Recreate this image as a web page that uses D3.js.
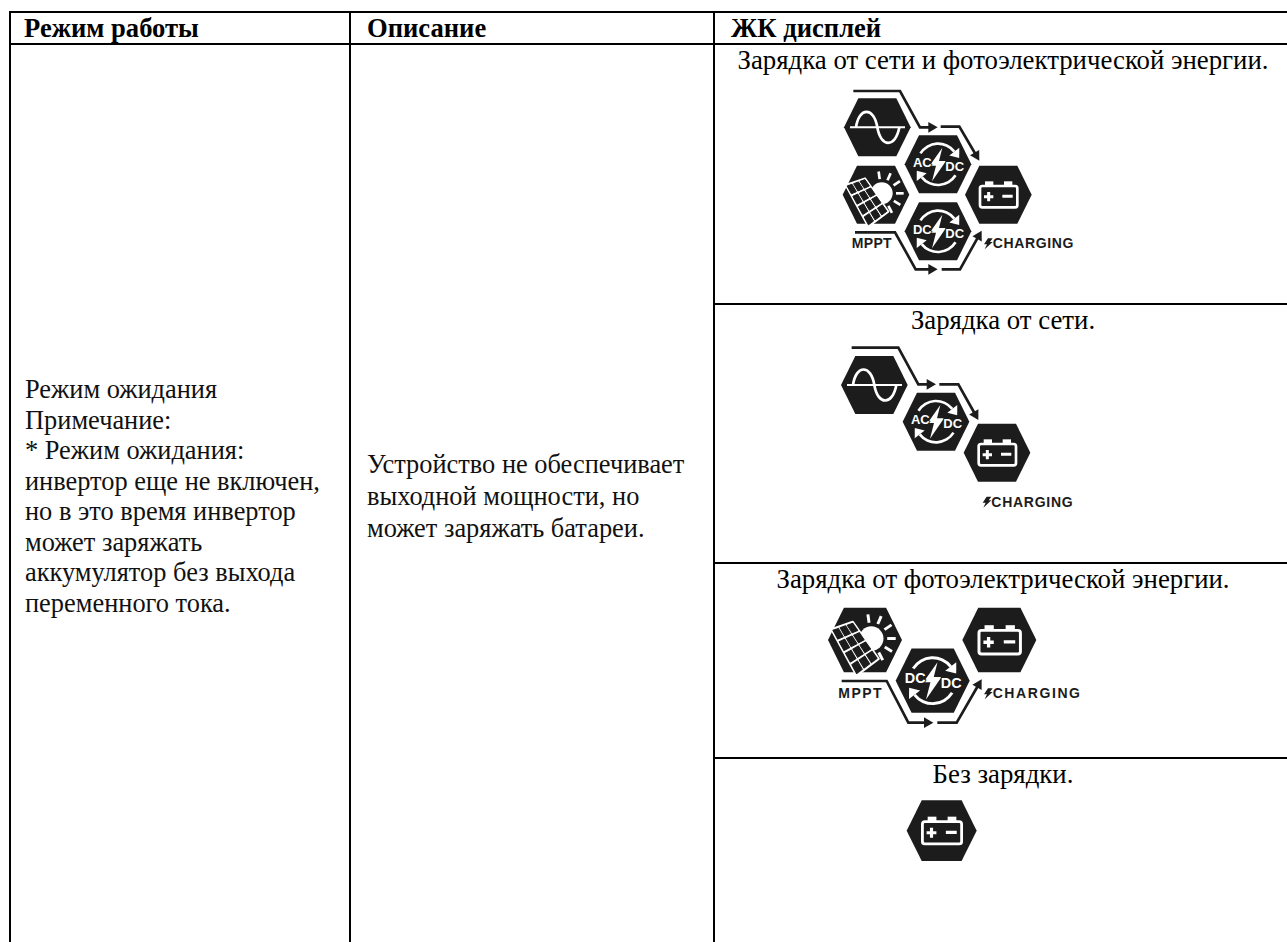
<!DOCTYPE html>
<html>
<head>
<meta charset="utf-8">
<script src="https://cdn.jsdelivr.net/npm/d3@7"></script>
<style>
  html, body { margin: 0; padding: 0; background: #fff; }
  svg { display: block; }
</style>
</head>
<body>
<div id="chart"></div>
<script>
// table content
const headers = ['Режим работы', 'Описание', 'ЖК дисплей'];
const modeLines = ['Режим ожидания', 'Примечание:', '* Режим ожидания:', 'инвертор еще не включен,', 'но в это время инвертор', 'может заряжать', 'аккумулятор без выхода', 'переменного тока.'];
const descLines = ['Устройство не обеспечивает', 'выходной мощности, но', 'может заряжать батареи.'];
const captions = ['Зарядка от сети и фотоэлектрической энергии.', 'Зарядка от сети.', 'Зарядка от фотоэлектрической энергии.', 'Без зарядки.'];

// layout of the table
const colX = [10, 350, 714];
const rowY = [12, 44, 304, 563, 758];
const headX = [24, 367, 731];

// icon layouts, hex centres and wires read in 1/3 px from the top left of each icon box
const icons = [
  {x: 780, y: 70, r: 100,
    hexes: [['sine', 292, 172], ['acdc', 474, 283], ['solar', 288, 374], ['dcdc', 474, 484], ['battery', 655, 374]],
    wires: [[[220, 63], [360, 63], [420, 172], [473, 172]],
            [[482, 170], [538, 170], [598, 272]],
            [[225, 487], [345, 487], [407, 598], [473, 598]],
            [[485, 598], [540, 598], [605, 482]]],
    mppt: [215, 335, 533], charging: [612, 880, 535]},
  {x: 780, y: 295, r: 100,
    hexes: [['sine', 283, 270], ['acdc', 468, 380], ['battery', 651, 473]],
    wires: [[[215, 158], [355, 158], [415, 268], [468, 268]],
            [[478, 268], [535, 268], [595, 375]]],
    mppt: null, charging: [608, 878, 635]},
  {x: 780, y: 590, r: 111,
    hexes: [['solar', 255, 150], ['dcdc', 458, 272], ['battery', 658, 150]],
    wires: [[[185, 273], [320, 273], [385, 398], [460, 398]],
            [[472, 398], [530, 398], [605, 268]]],
    mppt: [175, 305, 325], charging: [612, 900, 325]},
  {x: 780, y: 780, r: 105,
    hexes: [['battery', 485, 152]],
    wires: [], mppt: null, charging: null}
];

const width = 1287, height = 942;
const ink = '#1c1c1c';
const svg = d3.select('#chart').append('svg').attr('width', width).attr('height', height);

// grid
let grid = svg.append('g').attr('stroke', '#000').attr('stroke-width', 2);
grid.selectAll('.v').data(colX).enter().append('line')
  .attr('x1', d => d).attr('x2', d => d).attr('y1', rowY[0]).attr('y2', height);
grid.selectAll('.h').data(rowY.slice(0, 2)).enter().append('line')
  .attr('x1', colX[0] - 1).attr('x2', width).attr('y1', d => d).attr('y2', d => d);
grid.selectAll('.r').data(rowY.slice(2)).enter().append('line')
  .attr('x1', colX[2]).attr('x2', width).attr('y1', d => d).attr('y2', d => d);

// header
svg.selectAll('.head').data(headers).enter().append('text')
  .attr('x', (d, i) => headX[i]).attr('y', 37)
  .attr('font-family', 'Liberation Serif').attr('font-weight', 'bold').attr('font-size', 26.6)
  .text(d => d);

// left columns
svg.selectAll('.mode').data(modeLines).enter().append('text')
  .attr('x', 25).attr('y', (d, i) => 398 + i * 30.5)
  .attr('font-family', 'Liberation Serif').attr('font-size', 26.4).attr('fill', '#111')
  .text(d => d);
svg.selectAll('.desc').data(descLines).enter().append('text')
  .attr('x', 367).attr('y', (d, i) => 473 + i * 32)
  .attr('font-family', 'Liberation Serif').attr('font-size', 26.4).attr('fill', '#111')
  .text(d => d);

// captions
svg.selectAll('.cap').data(captions).enter().append('text')
  .attr('x', 1003).attr('y', (d, i) => rowY[i + 1] + 25)
  .attr('text-anchor', 'middle')
  .attr('font-family', 'Liberation Serif').attr('font-size', 26.8)
  .text(d => d);

const hexLine = d3.line().curve(d3.curveLinearClosed);
const hexPoints = [[-57, -87], [57, -87], [100, 0], [57, 87], [-57, 87], [-100, 0]];
const boltPoints = [[13, -50], [-25, 4], [-6, 4], [-18, 51], [24, -10], [3, -10]];

function drawBattery(g) {
  let w = g.append('g').attr('fill', 'none').attr('stroke', '#fff');
  w.append('rect').attr('x', -55).attr('y', -26).attr('width', 112).attr('height', 64).attr('rx', 7).attr('stroke-width', 8);
  g.selectAll('.term').data([-40, 17]).enter().append('rect')
    .attr('x', d => d).attr('y', -40).attr('width', 25).attr('height', 14).attr('fill', '#fff');
  w.append('path').attr('d', 'M-43,6H-15M-29,-8V20M12,5H43').attr('stroke-width', 9);
}

function drawSine(g) {
  let w = g.append('g').attr('fill', 'none').attr('stroke', '#fff');
  w.append('line').attr('x1', -82).attr('x2', 83).attr('stroke-width', 6);
  w.append('path').attr('d', 'M-64,0C-55,-62 -10,-62 0,0S55,62 66,0').attr('stroke-width', 8);
}

function drawConverter(g, left) {
  let arc = d3.arc().innerRadius(58).outerRadius(66);
  let deg = Math.PI / 180;
  let arcs = [[-58, 52], [122, 232]];
  g.selectAll('.arc').data(arcs).enter().append('path')
    .attr('fill', '#fff')
    .attr('d', d => arc({startAngle: d[0] * deg, endAngle: d[1] * deg}));
  // arrow heads on the clockwise ends
  g.selectAll('.head').data(arcs).enter().append('path')
    .attr('fill', '#fff')
    .attr('transform', d => `rotate(${d[1]}) translate(0,-62)`)
    .attr('d', 'M0,-19L24,0L0,19Z');
  g.append('path').attr('fill', '#fff').attr('d', hexLine(boltPoints));
  g.selectAll('.lab').data([[left, -47, 7], ['DC', 50, 20]]).enter().append('text')
    .attr('x', d => d[1]).attr('y', d => d[2])
    .attr('text-anchor', 'middle')
    .attr('font-family', 'Liberation Sans').attr('font-weight', 'bold').attr('font-size', 39)
    .attr('fill', '#fff')
    .attr('stroke', ink).attr('stroke-width', 5).attr('paint-order', 'stroke')
    .text(d => d[0]);
}

function drawSolar(g) {
  // sun
  g.append('circle').attr('cx', 17).attr('cy', -4).attr('r', 33).attr('fill', '#fff');
  g.selectAll('.ray').data([-98, -66, -34, 0, 32, 62]).enter().append('line')
    .attr('transform', d => `translate(17,-4) rotate(${d})`)
    .attr('x1', 43).attr('x2', 66)
    .attr('stroke', '#fff').attr('stroke-width', 8);
  // panel is a skewed grid, it pokes out of the hexagon on the left
  let a = [-91, -29], b = [-33, -49], c = [37, 51], e = [-23, 96];
  let at = (u, v) => [
    a[0] + (b[0] - a[0]) * u + (e[0] - a[0]) * v + (a[0] - b[0] + c[0] - e[0]) * u * v,
    a[1] + (b[1] - a[1]) * u + (e[1] - a[1]) * v + (a[1] - b[1] + c[1] - e[1]) * u * v
  ];
  g.append('path').attr('d', hexLine([a, b, c, e])).attr('fill', '#fff').attr('stroke', '#fff').attr('stroke-width', 6).attr('stroke-linejoin', 'round');
  let cells = d3.cross(d3.range(3), d3.range(4));
  g.selectAll('.cell').data(cells).enter().append('path')
    .attr('fill', ink).attr('stroke', ink).attr('stroke-width', 3).attr('stroke-linejoin', 'round')
    .attr('d', d => {
      let u0 = (d[0] + 0.12) / 3, u1 = (d[0] + 0.88) / 3, v0 = (d[1] + 0.12) / 4, v1 = (d[1] + 0.88) / 4;
      return hexLine([at(u0, v0), at(u1, v0), at(u1, v1), at(u0, v1)]);
    });
}

function drawWire(g, pts) {
  let n = pts.length;
  let tip = pts[n - 1], prev = pts[n - 2];
  let angle = Math.atan2(tip[1] - prev[1], tip[0] - prev[0]);
  let headLen = 24;
  let end = [tip[0] - headLen * Math.cos(angle), tip[1] - headLen * Math.sin(angle)];
  g.append('path')
    .attr('d', d3.line()(pts.slice(0, n - 1).concat([end])))
    .attr('fill', 'none').attr('stroke', ink).attr('stroke-width', 8);
  g.append('path')
    .attr('transform', `translate(${tip[0]},${tip[1]}) rotate(${angle * 180 / Math.PI})`)
    .attr('d', 'M0,0L-28,-16L-28,16Z').attr('fill', ink);
}

function drawIcon(icon) {
  let g = svg.append('g').attr('transform', `translate(${icon.x},${icon.y}) scale(${1 / 3})`);
  icon.wires.forEach(w => drawWire(g, w));
  icon.hexes.forEach(h => {
    let hg = g.append('g').attr('transform', `translate(${h[1]},${h[2]}) scale(${icon.r / 100})`);
    hg.append('path').attr('d', hexLine(hexPoints)).attr('fill', ink);
    if (h[0] == 'sine') drawSine(hg);
    if (h[0] == 'battery') drawBattery(hg);
    if (h[0] == 'solar') drawSolar(hg);
    if (h[0] == 'acdc') drawConverter(hg, 'AC');
    if (h[0] == 'dcdc') drawConverter(hg, 'DC');
  });
  if (icon.mppt) {
    g.append('text').attr('x', icon.mppt[0]).attr('y', icon.mppt[2])
      .attr('textLength', icon.mppt[1] - icon.mppt[0]).attr('lengthAdjust', 'spacing')
      .attr('font-family', 'Liberation Sans').attr('font-weight', 'bold').attr('font-size', 42).attr('fill', ink)
      .text('MPPT');
  }
  if (icon.charging) {
    let c = icon.charging;
    g.append('path').attr('fill', ink)
      .attr('transform', `translate(${c[0]},${c[2]})`)
      .attr('d', 'M12,-30L26,-30L18,-19L26,-19L2,3L9,-12L0,-12Z');
    g.append('text').attr('x', c[0] + 26).attr('y', c[2])
      .attr('textLength', c[1] - c[0] - 26).attr('lengthAdjust', 'spacing')
      .attr('font-family', 'Liberation Sans').attr('font-weight', 'bold').attr('font-size', 42).attr('fill', ink)
      .text('CHARGING');
  }
}

icons.forEach(drawIcon);
</script>
</body>
</html>
